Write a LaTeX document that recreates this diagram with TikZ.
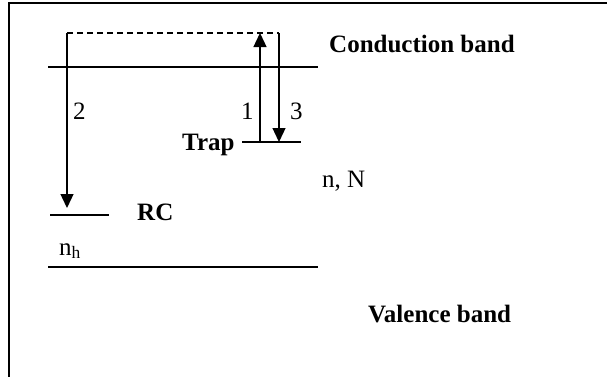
\documentclass[tikz,border=0pt]{standalone}
\usepackage{fontspec}
\setmainfont{Liberation Serif}
\usetikzlibrary{arrows.meta}
\usetikzlibrary{positioning}
\tikzset{
frame_line/.style={line width=1.4pt},
band_line/.style={line width=1.4pt},
level_line/.style={line width=1.4pt},
virtual_line/.style={line width=1.3pt, dash pattern=on 6pt off 4pt},
transition/.style={line width=1.3pt, -{Triangle[length=14pt,width=13pt]}},
band_label/.style={font=\fontsize{25}{30}\selectfont\bfseries, inner sep=0pt, anchor=base west},
plain_label/.style={font=\fontsize{25}{30}\selectfont, inner sep=0pt, anchor=base west}
}

\begin{document}
\begin{tikzpicture}[x=1pt, y=-1pt]
    \useasboundingbox (0,0) rectangle (607,376);
    \begin{scope}
        \clip (0,0) rectangle (607,376);
        \draw[frame_line] (9,3) rectangle (640,400);
    \end{scope}

    % bands and levels
    \coordinate (cb_left) at (48,67);
    \coordinate (cb_right) at (318,67);
    \coordinate (vb_left) at (48,267);
    \coordinate (vb_right) at (318,267);
    \coordinate (trap_left) at (242,142);
    \coordinate (trap_right) at (301,142);
    \coordinate (rc_left) at (50,215);
    \coordinate (rc_right) at (109,215);
    \draw[band_line] (cb_left) -- (cb_right);
    \draw[band_line] (vb_left) -- (vb_right);
    \draw[level_line] (trap_left) -- (trap_right);
    \draw[level_line] (rc_left) -- (rc_right);

    % excited state
    \coordinate (top_left) at (67,33);
    \coordinate (top_right) at (279,33);
    \coordinate (top_up) at (260,33);
    \coordinate (trap_up) at (260,142);
    \coordinate (trap_down) at (279,142);
    \coordinate (rc_down) at (67,208);
    \draw[virtual_line] (top_left) -- (top_right);

    % transitions
    \draw[transition] (trap_up) -- (top_up);
    \draw[transition] (top_left) -- (rc_down);
    \draw[transition] (top_right) -- (trap_down);

    % labels
    \node[band_label] (cb_text) at (329,52) {Conduction band};
    \node[band_label] (vb_text) at (368,322) {Valence band};
    \node[band_label] (trap_text) at (182,150) {Trap};
    \node[band_label] (rc_text) at (137,220) {RC};
    \node[plain_label] (nN_text) at (322,187) {n, N};
    \node[plain_label] (nh_text) at (59,255) {n\textsubscript{h}};
    \node[plain_label] (t2_text) at (73,119) {2};
    \node[plain_label] (t1_text) at (241,119) {1};
    \node[plain_label] (t3_text) at (290,119) {3};
\end{tikzpicture}
\end{document}
